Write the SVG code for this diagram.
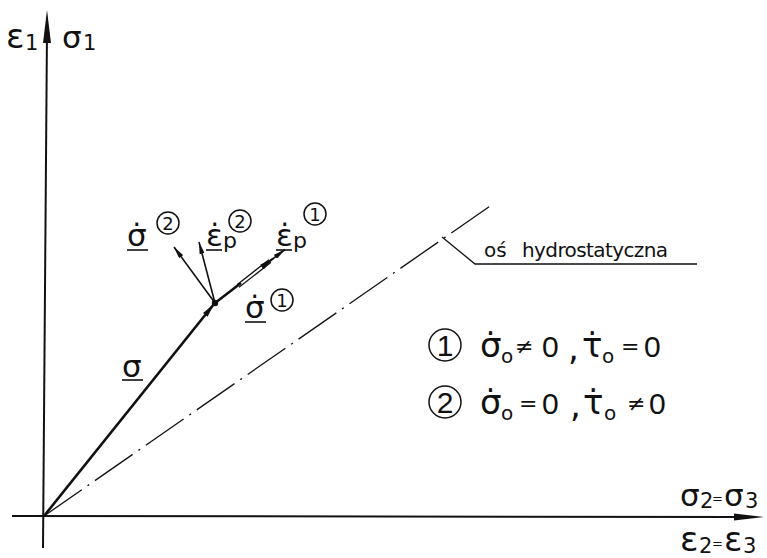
<svg xmlns="http://www.w3.org/2000/svg" width="767" height="558" viewBox="0 0 767 558">
<style>
  text { font-family: "DejaVu Sans", "Liberation Sans", sans-serif; fill: #111; }
  .ax { stroke: #111; stroke-width: 2; fill: none; }
  .vec { stroke: #111; stroke-width: 2.6; fill: none; }
  .thin { stroke: #111; stroke-width: 1.6; fill: none; }
  .hyd { stroke: #111; stroke-width: 1.3; fill: none; stroke-dasharray: 46 7 2 7; }
  .ul { stroke: #111; stroke-width: 1.6; }
  .circ { stroke: #111; stroke-width: 1.5; fill: none; }
  .lab { font-size: 31px; }
  .big { font-size: 34px; }
  .sub { font-size: 21px; }
  .num { font-size: 18px; text-anchor: middle; }
  .leg { font-size: 34px; }
  .op { font-size: 22px; }
  .dig { font-family: "Liberation Sans", sans-serif; font-size: 30px; }
</style>
<defs>
  <marker id="ah" viewBox="0 0 14 6" refX="14" refY="3" markerWidth="14" markerHeight="6" markerUnits="userSpaceOnUse" orient="auto">
    <path d="M0,0 L14,3 L0,6 Z" fill="#111"/>
  </marker>
  <marker id="ahs" viewBox="0 0 12 5" refX="12" refY="2.5" markerWidth="12" markerHeight="5" markerUnits="userSpaceOnUse" orient="auto">
    <path d="M0,0 L12,2.5 L0,5 Z" fill="#111"/>
  </marker>
</defs>

<g id="axes">
  <line class="ax" x1="43" y1="548" x2="47" y2="30"/>
  <path d="M47,10 L51,43 L43,43 Z" fill="#111"/>
  <line class="ax" x1="12" y1="516" x2="740" y2="517"/>
  <path d="M764,517 L734,513.5 L734,520.5 Z" fill="#111"/>
</g>

<g id="hydrostatic-axis">
  <line class="hyd" x1="44" y1="516" x2="493" y2="204"/>
  <polyline class="thin" points="442,237 475,264 697,264" style="stroke-width:1.3"/>
  <text x="484" y="257" font-size="20">oś</text>
  <text x="522" y="257" font-size="20" textLength="146" lengthAdjust="spacing">hydrostatyczna</text>
</g>

<g id="connectors">
  <line class="vec" x1="44" y1="516" x2="214" y2="304" marker-end="url(#ah)"/>
  <line class="thin" x1="215" y1="303" x2="174" y2="247" marker-end="url(#ahs)"/>
  <line class="thin" x1="215" y1="303" x2="199" y2="242" marker-end="url(#ahs)"/>
  <line class="vec" x1="215" y1="303" x2="241" y2="283"/>
  <line class="thin" x1="239" y1="287.3" x2="271" y2="262.3" style="stroke-width:1.3"/>
  <line class="thin" x1="237" y1="284.7" x2="269" y2="259.7" style="stroke-width:1.3"/>
  <line class="thin" x1="262" y1="267" x2="273" y2="258.5" marker-end="url(#ah)"/>
  <line class="thin" x1="270" y1="261" x2="285" y2="249.5" marker-end="url(#ahs)"/>
  <circle cx="215" cy="303" r="3.2" fill="#111"/>
</g>

<g id="label-axis-1">
  <text class="big" x="6" y="48">ε</text>
  <text class="sub" x="25" y="50">1</text>
  <text class="lab" x="62" y="48">σ</text>
  <text class="sub" x="83" y="50">1</text>
</g>

<g id="label-axis-23">
  <text class="lab" x="680" y="506">σ</text>
  <text class="sub" x="700" y="508">2</text>
  <text x="712" y="503" font-size="13">=</text>
  <text class="lab" x="724" y="506">σ</text>
  <text class="sub" x="745" y="508">3</text>
  <text class="big" x="680" y="551">ε</text>
  <text class="sub" x="699" y="553">2</text>
  <text x="712" y="548" font-size="13">=</text>
  <text class="big" x="724" y="551">ε</text>
  <text class="sub" x="743" y="553">3</text>
</g>

<g id="label-sigma">
  <text class="lab" x="122" y="377">σ</text>
  <line class="ul" x1="122" y1="380" x2="143" y2="380"/>
</g>

<g id="label-sigma-dot-2">
  <text class="lab" x="127" y="246">σ&#x307;</text>
  <line class="ul" x1="127" y1="250" x2="148" y2="250"/>
  <circle class="circ" cx="168" cy="223" r="11"/>
  <text class="num" x="168" y="229.5">2</text>
</g>

<g id="label-eps-p-2">
  <text class="lab" x="206" y="246">ε&#x307;</text>
  <line class="ul" x1="206" y1="250" x2="222" y2="250"/>
  <text x="223" y="248" font-size="22">p</text>
  <circle class="circ" cx="240" cy="221" r="11"/>
  <text class="num" x="240" y="227.5">2</text>
</g>

<g id="label-eps-p-1">
  <text class="lab" x="276" y="246">ε&#x307;</text>
  <line class="ul" x1="276" y1="250" x2="292" y2="250"/>
  <text x="293" y="248" font-size="22">p</text>
  <circle class="circ" cx="315" cy="214" r="11"/>
  <text class="num" x="315" y="220.5">1</text>
</g>

<g id="label-sigma-dot-1">
  <text class="lab" x="245" y="318">σ&#x307;</text>
  <line class="ul" x1="245" y1="322" x2="266" y2="322"/>
  <circle class="circ" cx="282" cy="300" r="11"/>
  <text class="num" x="282" y="306.5">1</text>
</g>

<g id="legend-1">
  <circle class="circ" cx="445" cy="345" r="16"/>
  <text class="dig" x="445" y="356" font-size="26" text-anchor="middle">1</text>
  <text class="leg" x="480" y="357">σ&#x307;</text>
  <text x="501" y="363" font-size="20">o</text>
  <text class="op" x="515" y="354">≠</text>
  <text class="dig" x="542" y="357">0</text>
  <text class="leg" x="568" y="360">,</text>
  <text class="leg" x="582" y="357">τ&#x307;</text>
  <text x="602" y="363" font-size="20">o</text>
  <text class="op" x="621" y="354">=</text>
  <text class="dig" x="644" y="357">0</text>
</g>

<g id="legend-2">
  <circle class="circ" cx="445" cy="402" r="16"/>
  <text class="dig" x="445" y="413" font-size="26" text-anchor="middle">2</text>
  <text class="leg" x="480" y="414">σ&#x307;</text>
  <text x="501" y="420" font-size="20">o</text>
  <text class="op" x="519" y="411">=</text>
  <text class="dig" x="542" y="414">0</text>
  <text class="leg" x="570" y="417">,</text>
  <text class="leg" x="583" y="414">τ&#x307;</text>
  <text x="604" y="420" font-size="20">o</text>
  <text class="op" x="627" y="411">≠</text>
  <text class="dig" x="649" y="414">0</text>
</g>
</svg>
